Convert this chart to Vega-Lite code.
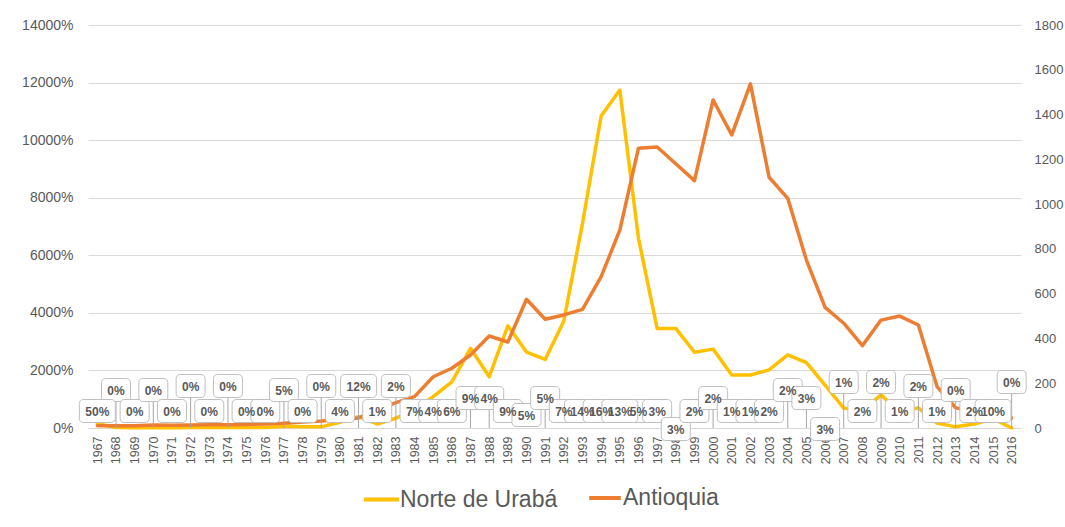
{
  "$schema": "https://vega.github.io/schema/vega-lite/v6.json",
  "width": 933,
  "height": 403,
  "autosize": "none",
  "padding": {"left": 88, "top": 25, "right": 44, "bottom": 99},
  "background": "white",
  "config": {
    "view": {"stroke": null},
    "font": "Liberation Sans",
    "axis": {"labelColor": "#595959", "labelFont": "Liberation Sans", "title": null},
    "legend": {"labelFont": "Liberation Sans"}
  },
  "data": {
    "values": [
      {"anio": 1967, "urab": 1.5, "antioquia": 10, "part": 0.5, "nivel": 3},
      {"anio": 1968, "urab": 0.2, "antioquia": 10, "part": 0, "nivel": 5},
      {"anio": 1969, "urab": 0.1, "antioquia": 10, "part": 0, "nivel": 3},
      {"anio": 1970, "urab": 0.2, "antioquia": 13, "part": 0, "nivel": 5},
      {"anio": 1971, "urab": 0.1, "antioquia": 12, "part": 0, "nivel": 3},
      {"anio": 1972, "urab": 0.2, "antioquia": 13, "part": 0, "nivel": 6},
      {"anio": 1973, "urab": 0.2, "antioquia": 14, "part": 0, "nivel": 3},
      {"anio": 1974, "urab": 0.2, "antioquia": 15, "part": 0, "nivel": 6},
      {"anio": 1975, "urab": 0.2, "antioquia": 16, "part": 0, "nivel": 3},
      {"anio": 1976, "urab": 0.2, "antioquia": 18, "part": 0, "nivel": 3},
      {"anio": 1977, "urab": 0.6, "antioquia": 21, "part": 0.05, "nivel": 5},
      {"anio": 1978, "urab": 0.4, "antioquia": 27, "part": 0, "nivel": 3},
      {"anio": 1979, "urab": 0.4, "antioquia": 31, "part": 0, "nivel": 6},
      {"anio": 1980, "urab": 2.0, "antioquia": 38, "part": 0.04, "nivel": 3},
      {"anio": 1981, "urab": 3.9, "antioquia": 45, "part": 0.12, "nivel": 6},
      {"anio": 1982, "urab": 1.4, "antioquia": 80, "part": 0.01, "nivel": 3},
      {"anio": 1983, "urab": 3.4, "antioquia": 113, "part": 0.02, "nivel": 6},
      {"anio": 1984, "urab": 6.5, "antioquia": 140, "part": 0.07, "nivel": 3},
      {"anio": 1985, "urab": 10.9, "antioquia": 229, "part": 0.04, "nivel": 3},
      {"anio": 1986, "urab": 16.0, "antioquia": 267, "part": 0.06, "nivel": 3},
      {"anio": 1987, "urab": 27.7, "antioquia": 326, "part": 0.09, "nivel": 4},
      {"anio": 1988, "urab": 17.8, "antioquia": 411, "part": 0.04, "nivel": 4},
      {"anio": 1989, "urab": 35.5, "antioquia": 384, "part": 0.09, "nivel": 3},
      {"anio": 1990, "urab": 26.4, "antioquia": 575, "part": 0.05, "nivel": 2},
      {"anio": 1991, "urab": 23.8, "antioquia": 486, "part": 0.05, "nivel": 4},
      {"anio": 1992, "urab": 37.2, "antioquia": 505, "part": 0.07, "nivel": 3},
      {"anio": 1993, "urab": 71.1, "antioquia": 530, "part": 0.14, "nivel": 3},
      {"anio": 1994, "urab": 108.4, "antioquia": 676, "part": 0.16, "nivel": 3},
      {"anio": 1995, "urab": 117.4, "antioquia": 884, "part": 0.13, "nivel": 3},
      {"anio": 1996, "urab": 65.9, "antioquia": 1250, "part": 0.05, "nivel": 3},
      {"anio": 1997, "urab": 34.6, "antioquia": 1255, "part": 0.03, "nivel": 3},
      {"anio": 1998, "urab": 34.6, "antioquia": 1180, "part": 0.03, "nivel": 1},
      {"anio": 1999, "urab": 26.3, "antioquia": 1105, "part": 0.02, "nivel": 3},
      {"anio": 2000, "urab": 27.4, "antioquia": 1465, "part": 0.02, "nivel": 4},
      {"anio": 2001, "urab": 18.4, "antioquia": 1309, "part": 0.01, "nivel": 3},
      {"anio": 2002, "urab": 18.4, "antioquia": 1537, "part": 0.01, "nivel": 3},
      {"anio": 2003, "urab": 20.2, "antioquia": 1120, "part": 0.02, "nivel": 3},
      {"anio": 2004, "urab": 25.4, "antioquia": 1026, "part": 0.02, "nivel": 5},
      {"anio": 2005, "urab": 22.7, "antioquia": 750, "part": 0.03, "nivel": 4},
      {"anio": 2006, "urab": 14.9, "antioquia": 539, "part": 0.03, "nivel": 1},
      {"anio": 2007, "urab": 6.9, "antioquia": 468, "part": 0.01, "nivel": 7},
      {"anio": 2008, "urab": 6.0, "antioquia": 368, "part": 0.02, "nivel": 3},
      {"anio": 2009, "urab": 11.5, "antioquia": 482, "part": 0.02, "nivel": 7},
      {"anio": 2010, "urab": 5.5, "antioquia": 500, "part": 0.01, "nivel": 3},
      {"anio": 2011, "urab": 7.0, "antioquia": 460, "part": 0.02, "nivel": 6},
      {"anio": 2012, "urab": 1.7, "antioquia": 185, "part": 0.01, "nivel": 3},
      {"anio": 2013, "urab": 0.4, "antioquia": 90, "part": 0, "nivel": 5},
      {"anio": 2014, "urab": 1.4, "antioquia": 75, "part": 0.02, "nivel": 3},
      {"anio": 2015, "urab": 3.2, "antioquia": 60, "part": 0.1, "nivel": 3},
      {"anio": 2016, "urab": 0.0, "antioquia": 45, "part": 0, "nivel": 7}
    ]
  },
  "encoding": {
    "x": {
      "field": "anio",
      "type": "ordinal",
      "scale": {"type": "point", "padding": 0.5},
      "axis": {
        "labelAngle": -90,
        "labelPadding": 8,
        "labelFontSize": 12.5,
        "domain": true,
        "domainColor": "#d9d9d9",
        "domainWidth": 1,
        "ticks": false,
        "grid": false
      }
    }
  },
  "layer": [
    {
      "mark": {"type": "line", "strokeWidth": 3.5, "strokeJoin": "round", "strokeCap": "round"},
      "encoding": {
        "y": {
          "field": "urab",
          "type": "quantitative",
          "scale": {"domain": [0, 140], "nice": false, "zero": true},
          "axis": {
            "orient": "left",
            "values": [0, 20, 40, 60, 80, 100, 120, 140],
            "format": ".0%",
            "labelFontSize": 14,
            "labelPadding": 15,
            "domain": false,
            "ticks": false,
            "grid": true,
            "gridColor": "#d9d9d9",
            "gridWidth": 1
          }
        },
        "color": {
          "datum": "Norte de Urabá",
          "type": "nominal",
          "scale": {"domain": ["Norte de Urabá"], "range": ["#FFC000"]},
          "legend": {
            "orient": "none",
            "legendX": 274,
            "legendY": 455,
            "direction": "horizontal",
            "title": null,
            "symbolType": "stroke",
            "symbolSize": 1225,
            "symbolStrokeWidth": 4,
            "labelFontSize": 23,
            "labelColor": "#595959",
            "labelOffset": -1,
            "labelLimit": 400
          }
        }
      }
    },
    {
      "mark": {"type": "line", "strokeWidth": 3.5, "strokeJoin": "round", "strokeCap": "round"},
      "encoding": {
        "y": {
          "field": "antioquia",
          "type": "quantitative",
          "scale": {"domain": [0, 1800], "nice": false, "zero": true},
          "axis": {
            "orient": "right",
            "values": [0, 200, 400, 600, 800, 1000, 1200, 1400, 1600, 1800],
            "format": "d",
            "labelFontSize": 13,
            "labelPadding": 13,
            "domain": false,
            "ticks": false,
            "grid": false
          }
        },
        "color": {
          "datum": "Antioquia",
          "type": "nominal",
          "scale": {"domain": ["Antioquia"], "range": ["#ED7D31"]},
          "legend": {
            "orient": "none",
            "legendX": 499,
            "legendY": 455,
            "direction": "horizontal",
            "title": null,
            "symbolType": "stroke",
            "symbolSize": 1000,
            "symbolStrokeWidth": 4,
            "labelFontSize": 23,
            "labelColor": "#595959",
            "labelOffset": 0,
            "labelLimit": 400
          }
        }
      }
    },
    {
      "transform": [{"filter": "datum.nivel >= 4"}],
      "mark": {"type": "rule", "color": "#a6a6a6", "strokeWidth": 1},
      "encoding": {
        "y": {
          "field": "nivel",
          "type": "quantitative",
          "scale": {"domain": [0, 1, 2, 3, 4, 5, 6, 7], "range": [403, 404, 390, 386, 373, 365, 361, 357], "nice": false, "zero": false},
          "axis": null
        },
        "y2": {"datum": 0}
      }
    },
    {
      "transform": [{"filter": "datum.part < 0.095"}],
      "mark": {"type": "rect", "width": 29, "height": 23, "cornerRadius": 4, "fill": "white", "stroke": "#bfbfbf", "strokeWidth": 1},
      "encoding": {
        "y": {
          "field": "nivel",
          "type": "quantitative",
          "scale": {"domain": [0, 1, 2, 3, 4, 5, 6, 7], "range": [403, 404, 390, 386, 373, 365, 361, 357], "nice": false, "zero": false},
          "axis": null
        }
      }
    },
    {
      "transform": [{"filter": "datum.part >= 0.095"}],
      "mark": {"type": "rect", "width": 36, "height": 23, "cornerRadius": 4, "fill": "white", "stroke": "#bfbfbf", "strokeWidth": 1},
      "encoding": {
        "y": {
          "field": "nivel",
          "type": "quantitative",
          "scale": {"domain": [0, 1, 2, 3, 4, 5, 6, 7], "range": [403, 404, 390, 386, 373, 365, 361, 357], "nice": false, "zero": false},
          "axis": null
        }
      }
    },
    {
      "mark": {"type": "text", "fontSize": 12, "fontWeight": "bold", "color": "#595959", "align": "center", "baseline": "middle", "dy": 1},
      "encoding": {
        "y": {
          "field": "nivel",
          "type": "quantitative",
          "scale": {"domain": [0, 1, 2, 3, 4, 5, 6, 7], "range": [403, 404, 390, 386, 373, 365, 361, 357], "nice": false, "zero": false},
          "axis": null
        },
        "text": {"field": "part", "type": "quantitative", "format": ".0%"}
      }
    }
  ],
  "resolve": {"scale": {"y": "independent", "color": "independent"}}
}
